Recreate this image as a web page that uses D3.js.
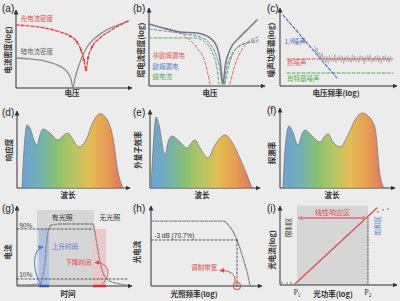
<!DOCTYPE html>
<html>
<head>
<meta charset="utf-8">
<script src="https://d3js.org/d3.v7.min.js"></script>
<style>
body{margin:0;background:#ececec}
text{font-family:"Noto Sans CJK SC","Noto Sans",sans-serif}
</style>
</head>
<body>
<svg id="fig" width="400" height="301"></svg>
<script>

// ---- data (each panel uses 0..100 units on both axes) ----

// (a) photo / dark current density vs voltage
var photoCurrent = [[0,82.9],[12.3,81.6],[25.4,78.9],[38.6,73.7],[47.4,68.4],[53.5,60.5],[57,50],[59.6,36.8],[61.4,23.7],[63.2,39.5],[66.7,53.9],[73.7,65.8],[82.5,75],[91.2,82.9],[99,88.5]];
var darkCurrent = [[0,39.5],[12.3,38.2],[25.4,35.5],[34.2,31.6],[41.2,26.3],[45.6,19.7],[48.2,11.8],[50,1],[51.8,13],[54.4,26.3],[57.9,40.8],[62.3,53.9],[69.3,65.8],[78,75],[89.5,82.9],[99,88.5]];

// (b) dark current components
var darkTotal = [[0,81.6],[12.3,76.3],[27.2,71.1],[42.1,69.7],[53.5,63.2],[59.6,51.3],[62.3,34.2],[64.9,2.6],[66.7,25],[71,47.4],[79.8,64.5],[88.6,77.6],[94.7,86.8]];
var nonOhmicL = [[14,76.3],[31.6,65.8],[42.1,50],[49.1,31.6],[53.5,2.6]];
var nonOhmicR = [[71,2.6],[75.4,27.6],[82.5,50],[95.6,64.5]];
var ohmicL = [[0,75],[14,72.4],[31.6,68.4],[44.7,64.5],[53.5,55.3],[58.8,40.8],[62.3,21],[64,2.6]];
var ohmicR = [[66,2.6],[67.5,18.4],[71.9,39.5],[79.8,52.6],[95.6,60.5]];
var junctionL = [[0,63.2],[40.4,63.2],[49.1,57.9],[55.3,44.7],[59.6,23.7],[61.4,2.6]];
var junctionR = [[66.7,2.6],[70.2,27.6],[75.4,47.4],[82.5,55.3],[95.6,57.9]];

// (c) noise spectrum
var flickerLine = [[2.6,93.4],[49.6,10.5]];
var thermalLevel = 35.5;
var shotLevel = 17.1;
var noiseOffsets = [4,-3,5,-5,3,-4,6,-2,4,-5,3,-6,5,-3,2,-4,6,-5,3,-2,5,-4,4,-6,3,-3,5,-4,2,-5,6,-3,4,-4,3,-5,5,-2,4,-6,3,-4,5,-3,6,-5,2,-4,4,-3,5,-5,3,-6,4,-2,5,-4,3,-5,4,-3];

// (d)(e)(f) spectral curves
var responsivity = [[4.5,0],[6.3,50.7],[9,84],[11.7,80],[15.3,64],[18,57.3],[20.7,70.7],[23.4,78.7],[29.7,73.3],[36.9,64],[42.3,70.7],[45.9,73.3],[49.5,66.7],[55.9,54.7],[62.2,64],[68.5,88],[74.8,99],[80.2,93.3],[86.5,66.7],[91,21.3],[95.5,0]];
var eqe = [[0.9,0],[2.8,50],[5.6,93.4],[8.3,82.9],[13.9,43.4],[16.7,60.5],[20.4,68.4],[27.8,60.5],[34.3,52.6],[38.9,60.5],[41.7,63.2],[46.3,52.6],[53.7,39.5],[60.2,56.6],[69.4,69.7],[75.9,60.5],[80.6,47.4],[89.8,17.1],[94.4,0]];
var detectivity = [[2.7,0],[4.4,48.7],[8,79.5],[10.6,74.4],[15.9,55.1],[19.5,69.2],[22.1,74.4],[28.3,66.7],[35.4,59],[39.8,66.7],[42.5,69.2],[46.9,59],[53.1,52.6],[60.2,67.9],[66.4,87.2],[72.6,96.2],[77.9,92.3],[84.1,76.9],[88.5,16.7],[92,0]];
var spectrumColors = ["#5f98d0","#5fa8ae","#7bb962","#adc152","#e2b640","#e69440","#dc6450"];

// (g) transient response
var transient = [[0.9,1.3],[20.4,2.6],[23,14.1],[24.8,30.8],[26.5,59],[28.3,74.4],[31,78.2],[38,79.5],[67.3,79.5],[69,69.2],[70.8,52.6],[73.5,30.8],[76.1,16.7],[82.3,6.4],[91.2,2.6],[97.3,1.3]];
var lightOn = [17.7,68.1];
var riseBox = [19.5,28.3];
var fallBox = [67.3,78.8];
var level90 = 73.1, level10 = 9;

// (h) frequency response
var freqResp = [[0,83.3],[45,83.3],[66.1,83.3],[72.5,75.6],[78.9,59],[84.4,35.9],[88.1,17.9],[90.8,1.3]];
var cutoff = [78.9,59];

// (i) linear dynamic range
var linearLine = [[13,1.3],[84.3,100]];
var floorDots = [[1.7,2.6],[6.1,2.6],[9.6,2.6]];
var satDots = [[85.2,94.8],[89.6,97.4],[93.9,98.7]];
var ldr = [14.8,76.5];
var ldrLevel = 87;

// ---- drawing ----
var svg = d3.select("#fig");
var defs = svg.append("defs");

function marker(id, color, size) {
  defs.append("marker").attr("id", id)
    .attr("viewBox", "0 0 10 10").attr("refX", 9).attr("refY", 5)
    .attr("markerWidth", size).attr("markerHeight", size)
    .attr("markerUnits", "userSpaceOnUse").attr("orient", "auto-start-reverse")
    .append("path").attr("d", "M0,0 L10,5 L0,10 z").attr("fill", color);
}
marker("ax", "#333", 5);
marker("red", "#e04848", 5);
marker("blue", "#4a78c8", 5);
marker("pink", "#d88888", 5);

function panel(c) {
  var x = d3.scaleLinear().domain([0,100]).range([c.x0, c.x1]);
  var y = d3.scaleLinear().domain([0,100]).range([c.yb, c.yt]);
  var g = svg.append("g");
  g.append("line").attr("x1", c.x0).attr("y1", c.yb).attr("x2", c.x0).attr("y2", c.yt - 2)
    .attr("stroke", "#333").attr("stroke-width", 1).attr("marker-end", "url(#ax)");
  g.append("line").attr("x1", c.x0).attr("y1", c.yb).attr("x2", c.x1 + 2).attr("y2", c.yb)
    .attr("stroke", "#333").attr("stroke-width", 1).attr("marker-end", "url(#ax)");
  g.append("text").attr("x", c.lx).attr("y", c.ly).text(c.letter)
    .style("font-family", "Liberation Sans, Arial, sans-serif").style("font-size", "10px").attr("fill", "#222");
  g.append("text").attr("x", c.xlx).attr("y", c.xly).attr("text-anchor", "middle")
    .style("font-size", "7.5px").style("font-weight", "bold").attr("fill", "#333").text(c.xlab);
  g.append("text").attr("transform", "translate(" + c.ylx + "," + c.yly + ") rotate(-90)")
    .attr("text-anchor", "middle").attr("dy", "0.35em")
    .style("font-size", "7.5px").style("font-weight", "bold").attr("fill", "#333").text(c.ylab);
  var path = d3.line().x(function(d){return x(d[0]);}).y(function(d){return y(d[1]);});
  return {g: g, x: x, y: y, path: path};
}

function curve(p, data, color, width, dash, kind) {
  var gen = p.path.curve(kind || d3.curveMonotoneX);
  return p.g.append("path").attr("d", gen(data)).attr("fill", "none")
    .attr("stroke", color).attr("stroke-width", width)
    .attr("stroke-dasharray", dash || null).attr("stroke-linecap", "round");
}

function label(p, xv, yv, txt, color, size, anchor) {
  return p.g.append("text").attr("x", p.x(xv)).attr("y", p.y(yv))
    .attr("text-anchor", anchor || "start").style("font-size", (size || 6.5) + "px")
    .attr("fill", color).text(txt);
}

// (a)
var pa = panel({x0:16, x1:130, yt:12, yb:88, letter:"(a)", lx:2, ly:12,
  xlab:"电压", xlx:72, xly:96, ylab:"电流密度(log)", ylx:8, yly:50});
curve(pa, darkCurrent, "#8a8a8a", 1.3);
curve(pa, photoCurrent, "#e04848", 1.4, "3,2");
pa.g.selectAll("circle.pt").data(photoCurrent.slice(4, 11)).join("circle")
  .attr("cx", function(d){return pa.x(d[0]);}).attr("cy", function(d){return pa.y(d[1]);})
  .attr("r", 1.3).attr("fill", "#e04848");
label(pa, 4, 88, "光电流密度", "#e04848");
label(pa, 4, 45, "暗电流密度", "#666");

// (b)
var pb = panel({x0:149, x1:263, yt:10, yb:86, letter:"(b)", lx:133, ly:12,
  xlab:"电压", xlx:210, xly:96, ylab:"暗电流密度(log)", ylx:141, yly:50});
curve(pb, nonOhmicL, "#e06060", 1, "3,2");
curve(pb, nonOhmicR, "#e06060", 1, "3,2");
curve(pb, ohmicL, "#5b7fd0", 1, "3,2");
curve(pb, ohmicR, "#5b7fd0", 1, "3,2");
curve(pb, junctionL, "#55aa66", 1, "3,2");
curve(pb, junctionR, "#55aa66", 1, "3,2");
curve(pb, darkTotal, "#777", 1.5);
label(pb, 3, 37, "非欧姆漏电", "#e06060");
label(pb, 3, 23, "欧姆漏电", "#5b7fd0");
label(pb, 3, 9, "结电流", "#55aa66");

// (c)
var pc = panel({x0:280, x1:395, yt:10, yb:86, letter:"(c)", lx:267, ly:12,
  xlab:"电压频率(log)", xlx:336, xly:96, ylab:"噪声功率谱(log)", ylx:271, yly:50});
var fx0 = flickerLine[0], fx1 = flickerLine[1];
var noisePts = noiseOffsets.map(function(o, i) {
  var xv = 30 + i * 1.1;
  var fl = fx0[1] + (xv - fx0[0]) * (fx1[1] - fx0[1]) / (fx1[0] - fx0[0]) + 4;
  return [xv, Math.max(fl, thermalLevel) + o];
});
pc.g.append("path").attr("d", pc.path.curve(d3.curveLinear)(noisePts))
  .attr("fill", "none").attr("stroke", "#b5b5b5").attr("stroke-width", 1);
curve(pc, [[6.1,thermalLevel],[98.3,thermalLevel]], "#e05555", 1.2, "3,2", d3.curveLinear);
curve(pc, [[6.1,shotLevel],[98.3,shotLevel]], "#4caf50", 1.2, "3,2", d3.curveLinear);
curve(pc, flickerLine, "#4a68b8", 1.1, "3,2", d3.curveLinear);
label(pc, 4, 55, "1/f噪声", "#4a68b8");
label(pc, 6, 27, "热噪声", "#e05555");
label(pc, 6, 7, "肖特基噪声", "#4caf50");

// (d)(e)(f) spectral
function spectral(p, data, id) {
  var xs = data.map(function(d){return d[0];});
  var gr = defs.append("linearGradient").attr("id", id)
    .attr("gradientUnits", "userSpaceOnUse")
    .attr("x1", p.x(d3.min(xs))).attr("x2", p.x(d3.max(xs))).attr("y1", 0).attr("y2", 0);
  spectrumColors.forEach(function(c, i) {
    gr.append("stop").attr("offset", i / (spectrumColors.length - 1)).attr("stop-color", c);
  });
  var area = d3.area().x(function(d){return p.x(d[0]);}).y0(p.y(0))
    .y1(function(d){return p.y(d[1]);}).curve(d3.curveMonotoneX);
  p.g.append("path").attr("d", area(data)).attr("fill", "url(#" + id + ")").attr("fill-opacity", 0.88);
  curve(p, data, "#7a7a7a", 0.8);
}
var pd = panel({x0:17, x1:128, yt:113, yb:188, letter:"(d)", lx:2, ly:116,
  xlab:"波长", xlx:68, xly:198, ylab:"响应度", ylx:9, yly:150});
spectral(pd, responsivity, "gd");
var pe = panel({x0:150, x1:258, yt:112, yb:188, letter:"(e)", lx:133, ly:116,
  xlab:"波长", xlx:202, xly:198, ylab:"外量子效率", ylx:138, yly:150});
spectral(pe, eqe, "ge");
var pf = panel({x0:280, x1:393, yt:110, yb:188, letter:"(f)", lx:267, ly:114,
  xlab:"波长", xlx:332, xly:198, ylab:"探测率", ylx:272, yly:153});
spectral(pf, detectivity, "gf");

// (g)
var pg = panel({x0:17, x1:130, yt:208, yb:286, letter:"(g)", lx:2, ly:212,
  xlab:"时间", xlx:68, xly:297, ylab:"电流", ylx:8, yly:252});
pg.g.insert("rect", ":first-child").attr("x", pg.x(lightOn[0])).attr("y", pg.y(97.4))
  .attr("width", pg.x(lightOn[1]) - pg.x(lightOn[0])).attr("height", pg.y(0) - pg.y(97.4))
  .attr("fill", "#d6d6d6");
pg.g.append("rect").attr("x", pg.x(riseBox[0])).attr("y", pg.y(level90))
  .attr("width", pg.x(riseBox[1]) - pg.x(riseBox[0])).attr("height", pg.y(0) - pg.y(level90))
  .attr("fill", "#9db8e4").attr("fill-opacity", 0.7);
pg.g.append("rect").attr("x", pg.x(fallBox[0])).attr("y", pg.y(level90))
  .attr("width", pg.x(fallBox[1]) - pg.x(fallBox[0])).attr("height", pg.y(0) - pg.y(level90))
  .attr("fill", "#ecc2c2").attr("fill-opacity", 0.8);
curve(pg, [[0,level90],[fallBox[0],level90]], "#333", 0.8, "2,2", d3.curveLinear);
curve(pg, [[0,level10],[98,level10]], "#333", 0.8, "2,2", d3.curveLinear);
curve(pg, transient, "#8a8a8a", 1.3, "3,1.5");
pg.g.append("line").attr("x1", pg.x(riseBox[0])).attr("x2", pg.x(riseBox[1]))
  .attr("y1", pg.y(0)).attr("y2", pg.y(0)).attr("stroke", "#3060b0").attr("stroke-width", 2.5);
pg.g.append("line").attr("x1", pg.x(fallBox[0])).attr("x2", pg.x(fallBox[1]))
  .attr("y1", pg.y(0)).attr("y2", pg.y(0)).attr("stroke", "#d03030").attr("stroke-width", 2.5);
pg.g.append("path").attr("d", "M" + pg.x(21) + "," + pg.y(2) + " C" + pg.x(13) + "," + pg.y(22) + " " + pg.x(14) + "," + pg.y(48) + " " + pg.x(23) + "," + pg.y(50))
  .attr("fill", "none").attr("stroke", "#4a78c8").attr("stroke-width", 1).attr("marker-end", "url(#blue)");
pg.g.append("path").attr("d", "M" + pg.x(75) + "," + pg.y(2) + " C" + pg.x(84) + "," + pg.y(14) + " " + pg.x(82) + "," + pg.y(30) + " " + pg.x(69) + "," + pg.y(30))
  .attr("fill", "none").attr("stroke", "#e04848").attr("stroke-width", 1).attr("marker-end", "url(#red)");
label(pg, 2, 75, "90%", "#333", 6.5);
label(pg, 2, 11, "10%", "#333", 6.5);
label(pg, 40, 85, "有光照", "#333", 7, "middle");
label(pg, 82, 85, "无光照", "#333", 7, "middle");
label(pg, 31, 47, "上升时间", "#4a78c8");
label(pg, 66, 27, "下降时间", "#e04848", 6.5, "end");

// (h)
var ph = panel({x0:151, x1:260, yt:208, yb:286, letter:"(h)", lx:133, ly:212,
  xlab:"光照频率(log)", xlx:194, xly:297, ylab:"光电流", ylx:137, yly:252});
curve(ph, freqResp, "#8a8a8a", 1.3, "3,1.5");
curve(ph, [[0,cutoff[1]],cutoff], "#333", 0.8, "2,2", d3.curveLinear);
curve(ph, [cutoff,[cutoff[0],0]], "#333", 0.8, "2,2", d3.curveLinear);
label(ph, 3, 62, "-3 dB (70.7%)", "#333", 6.5).style("font-family", "Liberation Sans, Arial, sans-serif");
ph.g.append("circle").attr("cx", ph.x(cutoff[0])).attr("cy", ph.y(0)).attr("r", 3.5)
  .attr("fill", "none").attr("stroke", "#e04848").attr("stroke-width", 1.1);
ph.g.append("path").attr("d", "M" + ph.x(77) + "," + ph.y(5) + " C" + ph.x(78) + "," + ph.y(16) + " " + ph.x(72) + "," + ph.y(20) + " " + ph.x(63) + "," + ph.y(20))
  .attr("fill", "none").attr("stroke", "#e04848").attr("stroke-width", 1).attr("marker-end", "url(#red)");
label(ph, 37, 20, "调制带宽", "#e04848", 6.5);

// (i)
var pi = panel({x0:280, x1:395, yt:208, yb:285, letter:"(i)", lx:267, ly:212,
  xlab:"光功率(log)", xlx:333, xly:297, ylab:"光电流(log)", ylx:272, yly:250});
pi.g.insert("rect", ":first-child").attr("x", pi.x(ldr[0])).attr("y", pi.y(103))
  .attr("width", pi.x(ldr[1]) - pi.x(ldr[0])).attr("height", pi.y(0) - pi.y(103))
  .attr("fill", "#d6d6d6");
curve(pi, [[ldr[1],ldrLevel],[ldr[1],0]], "#333", 0.8, "1.5,1.5", d3.curveLinear);
curve(pi, linearLine, "#e04848", 1.2, null, d3.curveLinear);
pi.g.selectAll("circle.dot").data(floorDots.concat(satDots)).join("circle")
  .attr("cx", function(d){return pi.x(d[0]);}).attr("cy", function(d){return pi.y(d[1]);})
  .attr("r", 1).attr("fill", "#999");
pi.g.append("line").attr("x1", pi.x(ldr[0]) + 1).attr("x2", pi.x(ldr[1]) - 1)
  .attr("y1", pi.y(ldrLevel)).attr("y2", pi.y(ldrLevel))
  .attr("stroke", "#d88888").attr("stroke-width", 2)
  .attr("marker-start", "url(#pink)").attr("marker-end", "url(#pink)");
label(pi, (ldr[0] + ldr[1]) / 2, 91, "线性响应区", "#e04848", 7, "middle");
pi.g.append("text").attr("transform", "translate(" + pi.x(8) + "," + pi.y(75) + ") rotate(-90)")
  .attr("text-anchor", "middle").attr("dy", "0.35em").style("font-size", "6.5px").attr("fill", "#333").text("限制区");
pi.g.append("text").attr("transform", "translate(" + pi.x(85) + "," + pi.y(77) + ") rotate(-90)")
  .attr("text-anchor", "middle").attr("dy", "0.35em").style("font-size", "6.5px").attr("fill", "#4a78c8").text("饱和区");
[["P","1",ldr[0]],["P","2",ldr[1]]].forEach(function(t) {
  var tx = pi.g.append("text").attr("x", pi.x(t[2])).attr("y", 295).attr("text-anchor", "middle")
    .style("font-family", "Liberation Serif, serif").style("font-size", "8px").attr("fill", "#333");
  tx.append("tspan").text(t[0]);
  tx.append("tspan").attr("dy", 2).style("font-size", "5.5px").text(t[1]);
});

</script>
</body>
</html>
